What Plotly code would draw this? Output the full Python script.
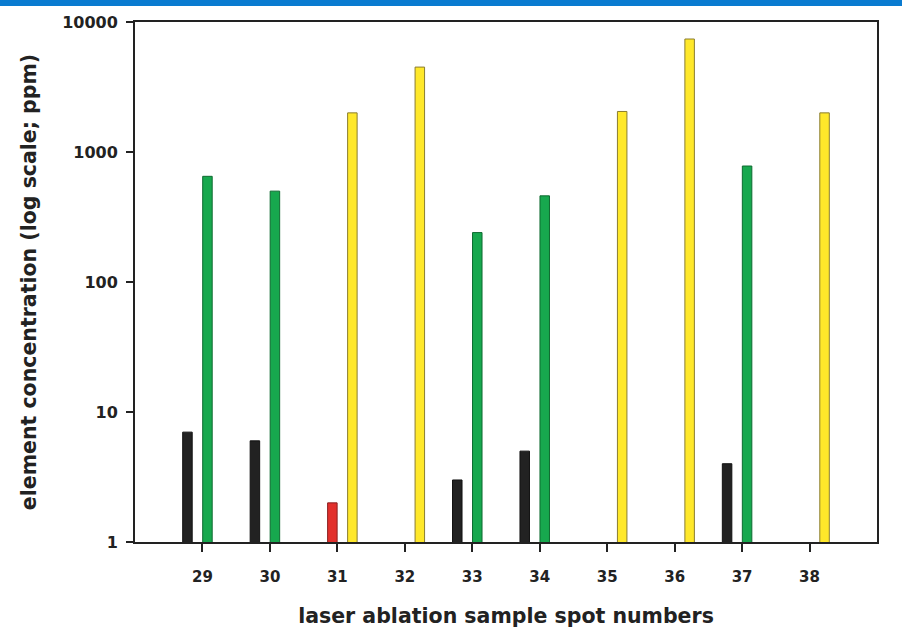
import plotly.graph_objects as go

categories = [29, 30, 31, 32, 33, 34, 35, 36, 37, 38]
black_vals = [7, 6, None, None, 3, 5, None, None, 4, None]
red_vals = [None, None, 2, None, None, None, None, None, None, None]
green_vals = [650, 500, None, None, 240, 460, None, None, 780, None]
yellow_vals = [None, None, 2000, 4500, None, None, 2050, 7400, None, 2000]
y_ticks = [1, 10, 100, 1000, 10000]
y_ticktext = ["1", "10", "100", "1000", "10000"]

series = [
    ("black", black_vals, "#222222", "#111111"),
    ("red", red_vals, "#e2302c", "#8a2020"),
    ("green", green_vals, "#17a84e", "#0e6a30"),
    ("yellow", yellow_vals, "#ffe82a", "#8a7d30"),
]

fig = go.Figure()
for name, vals, fill, edge in series:
    fig.add_trace(go.Bar(
        x=categories, y=vals, name=name,
        marker=dict(color=fill, line=dict(color=edge, width=1)),
        showlegend=False,
    ))

font_family = "DejaVu Sans, Verdana, sans-serif"
fig.update_layout(
    width=902, height=630,
    margin=dict(l=135, r=25, t=22, b=88),
    paper_bgcolor="white", plot_bgcolor="white",
    barmode="group", bargap=0.407, bargroupgap=0.05,
    font=dict(family=font_family, color="#222222", size=16, weight="bold"),
    shapes=[dict(type="rect", xref="paper", yref="paper",
                 x0=-135/742, x1=1+25/742, y0=1+16/520, y1=1+22/520,
                 fillcolor="#0a7bd0", line=dict(width=0), layer="above")],
)
fig.update_xaxes(
    range=[28, 39], tickmode="array", tickvals=categories,
    ticktext=[str(c) for c in categories], automargin=False,
    showline=True, linecolor="#222222", linewidth=2, mirror=True,
    ticks="outside", ticklen=8, tickwidth=2, tickcolor="#222222",
    showgrid=False, zeroline=False, ticklabelstandoff=12,
    tickfont=dict(size=15, weight="bold"),
    title=dict(text="laser ablation sample spot numbers",
               font=dict(size=20.5, weight="bold"), standoff=24),
)
fig.update_yaxes(
    type="log", range=[0, 4], tickmode="array", tickvals=y_ticks,
    ticktext=y_ticktext, automargin=False,
    showline=True, linecolor="#222222", linewidth=2, mirror=True,
    ticks="outside", ticklen=7, tickwidth=2, tickcolor="#222222",
    showgrid=False, zeroline=False, ticklabelstandoff=5,
    tickfont=dict(size=16, weight="bold"),
    title=dict(text="element concentration (log scale; ppm)",
               font=dict(size=20.5, weight="bold"), standoff=20),
)
fig.write_html("out.html", config={"displayModeBar": False},
               post_script="document.body.style.margin='0';document.body.style.overflow='hidden';")
